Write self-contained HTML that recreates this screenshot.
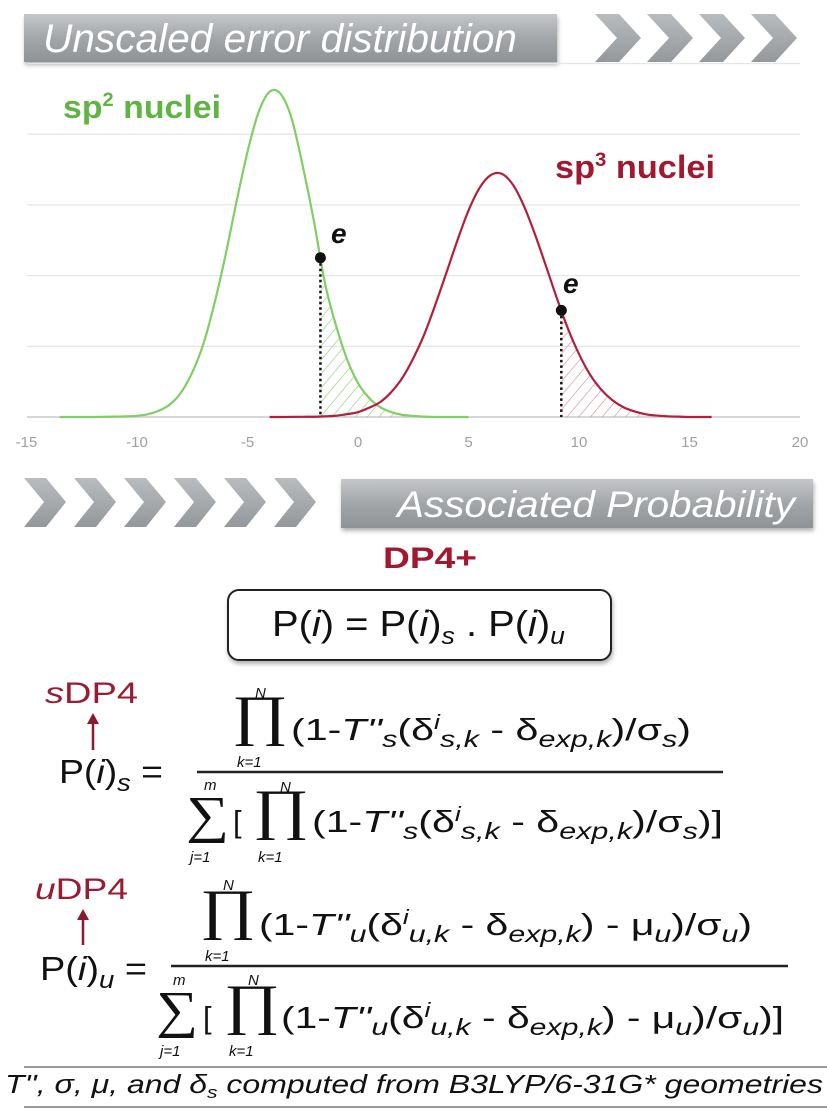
<!DOCTYPE html>
<html><head><meta charset="utf-8"><style>
html,body{margin:0;padding:0;background:#fff;}
svg{display:block;font-family:"Liberation Sans",sans-serif;}
</style></head><body>
<svg id="fig" width="827" height="1117" viewBox="0 0 827 1117">
<defs>
<linearGradient id="barg" x1="0" y1="0" x2="0" y2="1"><stop offset="0" stop-color="#c4c6c8"/><stop offset="0.5" stop-color="#a3a6a9"/><stop offset="1" stop-color="#8f9295"/></linearGradient>
<linearGradient id="chg" x1="0" y1="0" x2="0" y2="1"><stop offset="0" stop-color="#b9bcbf"/><stop offset="1" stop-color="#94989b"/></linearGradient>
<pattern id="hatchG" width="9" height="9" patternUnits="userSpaceOnUse" patternTransform="rotate(40)"><line x1="0" y1="0" x2="0" y2="9" stroke="#8fd07a" stroke-width="1.3"/></pattern>
<pattern id="hatchR" width="9" height="9" patternUnits="userSpaceOnUse" patternTransform="rotate(40)"><line x1="0" y1="0" x2="0" y2="9" stroke="#d98f9c" stroke-width="1.3"/></pattern>
<filter id="sh" x="-5%" y="-20%" width="110%" height="150%"><feDropShadow dx="1" dy="3" stdDeviation="2" flood-color="#000" flood-opacity="0.3"/></filter>
</defs>

<rect x="24" y="14" width="533" height="48" fill="url(#barg)" filter="url(#sh)"/>
<text x="43" y="52" font-size="40" font-style="italic" fill="#fff" textLength="474" lengthAdjust="spacingAndGlyphs">Unscaled error distribution</text>
<g fill="url(#chg)">
<polygon points="595,14 619,14 641,38 619,62 595,62 617,38"/>
<polygon points="647,14 671,14 693,38 671,62 647,62 669,38"/>
<polygon points="699,14 723,14 745,38 723,62 699,62 721,38"/>
<polygon points="751,14 775,14 797,38 775,62 751,62 773,38"/>
</g>

<g id="chart"></g>

<text x="63" y="118" font-size="32" font-weight="bold" fill="#5fb443" textLength="158" lengthAdjust="spacingAndGlyphs">sp<tspan font-size="19" dy="-12">2</tspan><tspan dy="12"> nuclei</tspan></text>
<text x="555" y="178" font-size="32" font-weight="bold" fill="#a3182e" textLength="160" lengthAdjust="spacingAndGlyphs">sp<tspan font-size="19" dy="-12">3</tspan><tspan dy="12"> nuclei</tspan></text>
<text x="331" y="243" font-size="28" font-weight="bold" font-style="italic" fill="#111">e</text>
<text x="563" y="293" font-size="28" font-weight="bold" font-style="italic" fill="#111">e</text>

<g fill="url(#chg)">
<polygon points="24,478 46,478 66,502 46,527 24,527 44,502"/>
<polygon points="74,478 96,478 116,502 96,527 74,527 94,502"/>
<polygon points="124,478 146,478 166,502 146,527 124,527 144,502"/>
<polygon points="174,478 196,478 216,502 196,527 174,527 194,502"/>
<polygon points="224,478 246,478 266,502 246,527 224,527 244,502"/>
<polygon points="274,478 296,478 316,502 296,527 274,527 294,502"/>
</g>
<rect x="341" y="479" width="472" height="49" fill="url(#barg)" filter="url(#sh)"/>
<text x="397" y="517" font-size="37" font-style="italic" fill="#fff" textLength="398" lengthAdjust="spacingAndGlyphs">Associated Probability</text>

<text x="383" y="568" font-size="30" font-weight="bold" fill="#a3182e" textLength="94" lengthAdjust="spacingAndGlyphs">DP4+</text>
<rect x="228" y="590" width="383" height="70" rx="11" fill="#fff" stroke="#222" stroke-width="2" filter="url(#sh)"/>
<text x="272" y="636" font-size="36" fill="#111" textLength="293" lengthAdjust="spacingAndGlyphs">P(<tspan font-style="italic">i</tspan>) = P(<tspan font-style="italic">i</tspan>)<tspan font-style="italic" font-size="24" dy="8">s</tspan><tspan dy="-8"> . P(</tspan><tspan font-style="italic">i</tspan>)<tspan font-style="italic" font-size="24" dy="8">u</tspan></text>

<text x="45" y="703" font-size="30" fill="#9b1b30" textLength="93" lengthAdjust="spacingAndGlyphs"><tspan font-style="italic">s</tspan>DP4</text>
<g><line x1="93" y1="750" x2="93" y2="722" stroke="#8b1a2c" stroke-width="2.5"/><polygon points="87,724 99,724 93,713" fill="#8b1a2c"/></g>
<text x="59" y="783" font-size="33" fill="#111" textLength="104" lengthAdjust="spacingAndGlyphs">P(<tspan font-style="italic">i</tspan>)<tspan font-style="italic" font-size="24" dy="8">s</tspan><tspan dy="-8"> =</tspan></text>
<g>
<text x="232" y="734" font-family="Liberation Serif,serif" font-size="56" fill="#111" textLength="56" lengthAdjust="spacingAndGlyphs">∏</text>
<text x="255" y="698" font-size="15" font-style="italic" fill="#111">N</text>
<text x="237" y="767" font-size="15" font-style="italic" fill="#111">k=1</text>
<text x="291" y="740" font-size="31" fill="#111" textLength="400" lengthAdjust="spacingAndGlyphs">(1-<tspan font-style="italic">T'ʹ</tspan><tspan font-style="italic" font-size="23" dy="7">s</tspan><tspan dy="-7">(δ</tspan><tspan font-style="italic" font-size="20" dy="-11">i</tspan><tspan font-style="italic" font-size="23" dy="18">s,k</tspan><tspan dy="-7">  -  δ</tspan><tspan font-style="italic" font-size="23" dy="7">exp,k</tspan><tspan dy="-7">)/σ</tspan><tspan font-style="italic" font-size="23" dy="7">s</tspan><tspan dy="-7">)</tspan></text>
</g>
<line x1="197" y1="772" x2="723" y2="772" stroke="#222" stroke-width="2.5"/>
<g>
<text x="204" y="790" font-size="15" font-style="italic" fill="#111">m</text>
<text x="186" y="832" font-family="Liberation Serif,serif" font-size="52" fill="#111" textLength="43" lengthAdjust="spacingAndGlyphs">∑</text>
<text x="190" y="862" font-size="15" font-style="italic" fill="#111">j=1</text>
<text x="233" y="832" font-size="31" fill="#111">[</text>
<text x="253" y="828" font-family="Liberation Serif,serif" font-size="56" fill="#111" textLength="56" lengthAdjust="spacingAndGlyphs">∏</text>
<text x="280" y="792" font-size="15" font-style="italic" fill="#111">N</text>
<text x="258" y="862" font-size="15" font-style="italic" fill="#111">k=1</text>
<text x="312" y="832" font-size="31" fill="#111" textLength="411" lengthAdjust="spacingAndGlyphs">(1-<tspan font-style="italic">T'ʹ</tspan><tspan font-style="italic" font-size="23" dy="7">s</tspan><tspan dy="-7">(δ</tspan><tspan font-style="italic" font-size="20" dy="-11">i</tspan><tspan font-style="italic" font-size="23" dy="18">s,k</tspan><tspan dy="-7">  -  δ</tspan><tspan font-style="italic" font-size="23" dy="7">exp,k</tspan><tspan dy="-7">)/σ</tspan><tspan font-style="italic" font-size="23" dy="7">s</tspan><tspan dy="-7">)]</tspan></text>
</g>

<text x="35" y="899" font-size="30" fill="#9b1b30" textLength="93" lengthAdjust="spacingAndGlyphs"><tspan font-style="italic">u</tspan>DP4</text>
<g><line x1="83" y1="945" x2="83" y2="918" stroke="#8b1a2c" stroke-width="2.5"/><polygon points="77,920 89,920 83,909" fill="#8b1a2c"/></g>
<text x="40" y="980" font-size="33" fill="#111" textLength="107" lengthAdjust="spacingAndGlyphs">P(<tspan font-style="italic">i</tspan>)<tspan font-style="italic" font-size="24" dy="8">u</tspan><tspan dy="-8"> =</tspan></text>
<g>
<text x="200" y="928" font-family="Liberation Serif,serif" font-size="56" fill="#111" textLength="56" lengthAdjust="spacingAndGlyphs">∏</text>
<text x="223" y="890" font-size="15" font-style="italic" fill="#111">N</text>
<text x="205" y="961" font-size="15" font-style="italic" fill="#111">k=1</text>
<text x="259" y="935" font-size="31" fill="#111" textLength="493" lengthAdjust="spacingAndGlyphs">(1-<tspan font-style="italic">T'ʹ</tspan><tspan font-style="italic" font-size="23" dy="7">u</tspan><tspan dy="-7">(δ</tspan><tspan font-style="italic" font-size="20" dy="-11">i</tspan><tspan font-style="italic" font-size="23" dy="18">u,k</tspan><tspan dy="-7">  -  δ</tspan><tspan font-style="italic" font-size="23" dy="7">exp,k</tspan><tspan dy="-7">) - μ</tspan><tspan font-style="italic" font-size="23" dy="7">u</tspan><tspan dy="-7">)/σ</tspan><tspan font-style="italic" font-size="23" dy="7">u</tspan><tspan dy="-7">)</tspan></text>
</g>
<line x1="171" y1="966" x2="788" y2="966" stroke="#222" stroke-width="2.5"/>
<g>
<text x="173" y="985" font-size="15" font-style="italic" fill="#111">m</text>
<text x="156" y="1027" font-family="Liberation Serif,serif" font-size="52" fill="#111" textLength="42" lengthAdjust="spacingAndGlyphs">∑</text>
<text x="160" y="1056" font-size="15" font-style="italic" fill="#111">j=1</text>
<text x="203" y="1028" font-size="31" fill="#111">[</text>
<text x="224" y="1023" font-family="Liberation Serif,serif" font-size="56" fill="#111" textLength="56" lengthAdjust="spacingAndGlyphs">∏</text>
<text x="248" y="985" font-size="15" font-style="italic" fill="#111">N</text>
<text x="229" y="1056" font-size="15" font-style="italic" fill="#111">k=1</text>
<text x="281" y="1028" font-size="31" fill="#111" textLength="503" lengthAdjust="spacingAndGlyphs">(1-<tspan font-style="italic">T'ʹ</tspan><tspan font-style="italic" font-size="23" dy="7">u</tspan><tspan dy="-7">(δ</tspan><tspan font-style="italic" font-size="20" dy="-11">i</tspan><tspan font-style="italic" font-size="23" dy="18">u,k</tspan><tspan dy="-7">  -  δ</tspan><tspan font-style="italic" font-size="23" dy="7">exp,k</tspan><tspan dy="-7">) - μ</tspan><tspan font-style="italic" font-size="23" dy="7">u</tspan><tspan dy="-7">)/σ</tspan><tspan font-style="italic" font-size="23" dy="7">u</tspan><tspan dy="-7">)]</tspan></text>
</g>

<line x1="24" y1="1067" x2="827" y2="1067" stroke="#9a9a9a" stroke-width="2"/>
<text x="5" y="1093" font-size="26" font-style="italic" fill="#111" textLength="818" lengthAdjust="spacingAndGlyphs">T'ʹ, σ, μ, and δ<tspan font-size="17" dy="5">s</tspan><tspan dy="-5"> computed from B3LYP/6-31G* geometries</tspan></text>
<line x1="24" y1="1107" x2="827" y2="1107" stroke="#9a9a9a" stroke-width="2"/>
</svg>
<script>
const xTicks = [-15, -10, -5, 0, 5, 10, 15, 20];
const gridLevels = [0, 1, 2, 3, 4, 5];
const sp2X = [-13.5,-13,-12.5,-12,-11.5,-11,-10.5,-10,-9.5,-9,-8.5,-8,-7.5,-7,-6.5,-6,-5.5,-5,-4.5,-4,-3.5,-3,-2.5,-2,-1.5,-1,-0.5,0,0.5,1,1.5,2,2.5,3,3.5,4,4.5,5];
const sp2Y = [0,0,0,0,0.003,0.005,0.01,0.017,0.04,0.09,0.18,0.35,0.63,1.03,1.6,2.28,3.04,3.75,4.31,4.6,4.57,4.22,3.55,2.78,1.9,1.3,0.82,0.48,0.27,0.14,0.07,0.03,0.015,0.005,0,0,0,0];
const sp3X = [-4,-3.5,-3,-2.5,-2,-1.5,-1,-0.5,0,0.5,1,1.5,2,2.5,3,3.5,4,4.5,5,5.5,6,6.5,7,7.5,8,8.5,9,9.5,10,10.5,11,11.5,12,12.5,13,13.5,14,14.5,15,15.5,16];
const sp3Y = [0,0,0.002,0.003,0.004,0.01,0.018,0.04,0.068,0.13,0.21,0.35,0.55,0.83,1.17,1.59,2.04,2.5,2.92,3.24,3.42,3.44,3.29,2.99,2.59,2.14,1.68,1.25,0.89,0.6,0.39,0.24,0.14,0.08,0.04,0.02,0.01,0.005,0,0,0];
const eValues = [-1.7, 9.2];

const NS = "http://www.w3.org/2000/svg";
const sx = v => 358 + v * 22.1;
const sy = v => 417 - v * 70.7;
const g = document.getElementById('chart');
function mk(tag, attrs){const e=document.createElementNS(NS,tag);for(const k in attrs)e.setAttribute(k,attrs[k]);g.appendChild(e);return e;}
function interp(xs, ys, x){for(let i=0;i<xs.length-1;i++){if(x>=xs[i]&&x<=xs[i+1]){const t=(x-xs[i])/(xs[i+1]-xs[i]);return ys[i]+t*(ys[i+1]-ys[i]);}}return 0;}
function smooth(pts){let d='M'+pts[0][0]+','+pts[0][1];for(let i=0;i<pts.length-1;i++){const p0=pts[i-1]||pts[i],p1=pts[i],p2=pts[i+1],p3=pts[i+2]||p2;d+=' C'+(p1[0]+(p2[0]-p0[0])/6)+','+(p1[1]+(p2[1]-p0[1])/6)+' '+(p2[0]-(p3[0]-p1[0])/6)+','+(p2[1]-(p3[1]-p1[1])/6)+' '+p2[0]+','+p2[1];}return d;}

gridLevels.forEach(v=>{
  const l=mk('line',{x1:27,x2:800,y1:sy(v),y2:sy(v),stroke:v===0?'#d4d8da':'#e4e7e8','stroke-width':v===0?2:1.3});
  
  
});
xTicks.forEach(v=>{
  const t=mk('text',{x:sx(v),y:447,'text-anchor':'middle','font-size':15,fill:'#a0a0a0'});
  t.textContent=v;
  
  
});
function series(xs, ys, color, hatch, e, name){
  const pts=xs.map((x,i)=>[sx(x),sy(ys[i])]);
  const d=smooth(pts);
  const cid='clip-'+name;
  const cp=document.createElementNS(NS,'clipPath');cp.setAttribute('id',cid);
  const cpath=document.createElementNS(NS,'path');cpath.setAttribute('d',d+' L'+sx(xs[xs.length-1])+','+sy(0)+' L'+sx(xs[0])+','+sy(0)+' Z');
  cp.appendChild(cpath);g.appendChild(cp);
  const h=mk('rect',{x:sx(e),y:sy(5),width:sx(xs[xs.length-1])-sx(e),height:sy(0)-sy(5),fill:'url(#'+hatch+')','clip-path':'url(#'+cid+')'});
  
  
  const p=mk('path',{d:d,fill:'none',stroke:color,'stroke-width':2.2});
  
  
  const ev=interp(xs,ys,e);
  const dl=mk('line',{x1:sx(e),x2:sx(e),y1:sy(ev),y2:sy(0),stroke:'#111','stroke-width':2.5,'stroke-dasharray':'2.5,3'});
  
  
  const c=mk('circle',{cx:sx(e),cy:sy(ev),r:5.5,fill:'#111'});
  
  
}
series(sp2X, sp2Y, '#7fcf63', 'hatchG', eValues[0], 'sp2');
series(sp3X, sp3Y, '#b51e3a', 'hatchR', eValues[1], 'sp3');
</script>
</body></html>
